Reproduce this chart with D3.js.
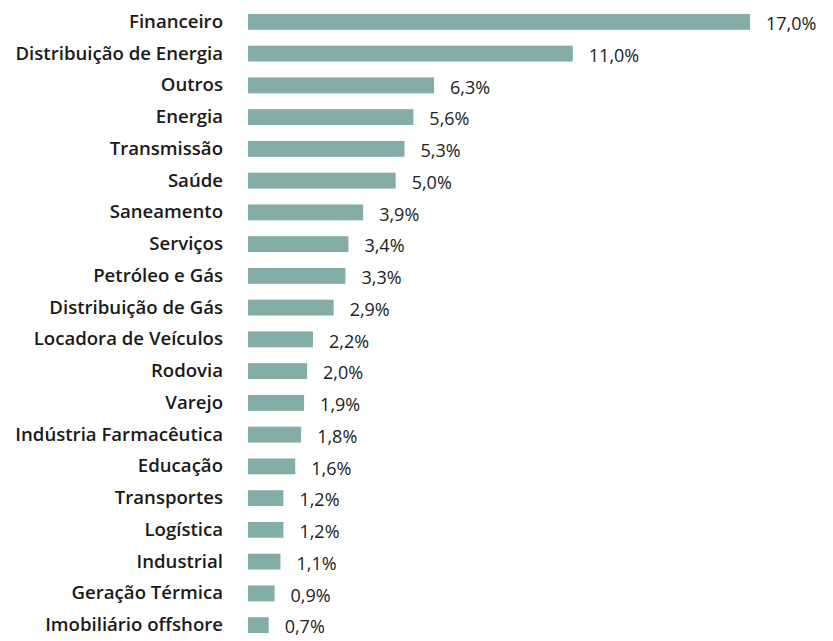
<!DOCTYPE html>
<html>
<head>
<meta charset="utf-8">
<script src="https://cdn.jsdelivr.net/npm/d3@7"></script>
<style>
  body { margin: 0; background: #fff; }
  .label { font-family: "Open Sans", sans-serif; font-weight: 600; font-size: 18.6px; fill: #1a1a1a; }
  .value { font-family: "Open Sans", sans-serif; font-weight: 400; font-size: 18px; fill: #222; }
</style>
</head>
<body>
<svg width="833" height="641"></svg>
<script>
var sectors = ["Financeiro", "Distribuição de Energia", "Outros", "Energia", "Transmissão",
  "Saúde", "Saneamento", "Serviços", "Petróleo e Gás", "Distribuição de Gás",
  "Locadora de Veículos", "Rodovia", "Varejo", "Indústria Farmacêutica", "Educação",
  "Transportes", "Logística", "Industrial", "Geração Térmica", "Imobiliário offshore"];
var shares = [17.0, 11.0, 6.3, 5.6, 5.3, 5.0, 3.9, 3.4, 3.3, 2.9,
  2.2, 2.0, 1.9, 1.8, 1.6, 1.2, 1.2, 1.1, 0.9, 0.7];

var data = sectors.map(function(s, i) { return {name: s, value: shares[i]}; });

var svg = d3.select("svg");

var x = d3.scaleLinear().domain([0, 17]).range([248, 750]);
var y = d3.scaleBand().domain(sectors).range([6, 641])
    .paddingInner(0.5).paddingOuter(0.25);

var fmt = function(v) { return d3.format(".1f")(v).replace(".", ",") + "%"; };

var row = svg.selectAll("g.row")
    .data(data)
    .join("g")
    .attr("class", "row");

row.append("rect")
    .attr("x", x(0))
    .attr("y", d => y(d.name))
    .attr("width", d => x(d.value) - x(0))
    .attr("height", y.bandwidth())
    .attr("fill", "#84ada7");

row.append("text")
    .attr("class", "label")
    .attr("x", 223)
    .attr("y", d => y(d.name) + y.bandwidth() / 2)
    .attr("dy", "0.32em")
    .attr("text-anchor", "end")
    .text(d => d.name);

row.append("text")
    .attr("class", "value")
    .attr("x", d => x(d.value) + 16)
    .attr("y", d => y(d.name) + y.bandwidth() / 2)
    .attr("dy", "0.46em")
    .text(d => fmt(d.value));
</script>
</body>
</html>
